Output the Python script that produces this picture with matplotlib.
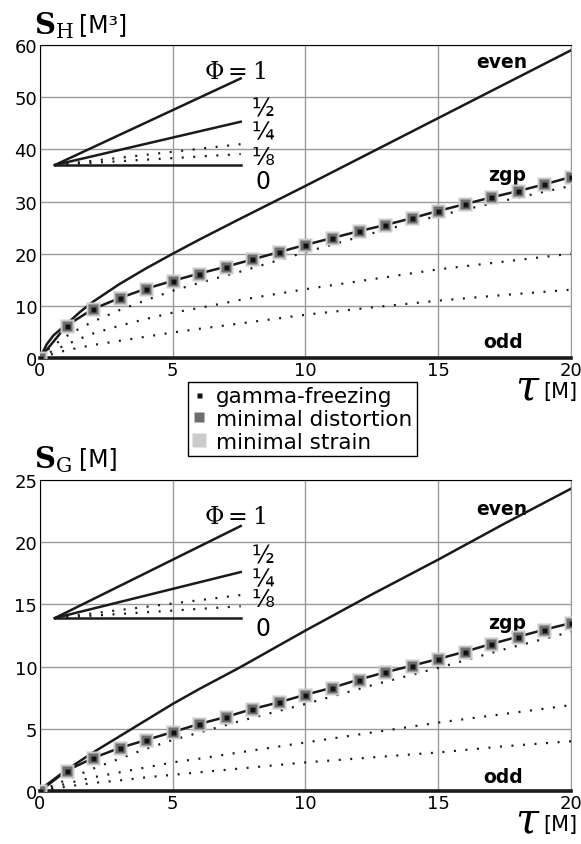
import matplotlib
matplotlib.use('Agg')
import matplotlib.pyplot as plt

# ---- data ----
tau_curve = [0, 0.25, 0.5, 1, 1.5, 2, 3, 4, 5, 6, 7.5, 10, 12.5, 15, 17.5, 20]
tau_pts = list(range(0, 21))

# upper panel S_H [M^3]
h_even = [0, 2.6, 4.3, 6.5, 8.8, 10.8, 14.2, 17.2, 20.0, 22.7, 26.6, 33.0,
          39.5, 46.0, 52.5, 59.0]
h_zgp = [0, 6.2, 9.4, 11.5, 13.3, 14.8, 16.2, 17.5, 18.9, 20.3, 21.7,
         23.0, 24.3, 25.5, 26.8, 28.2, 29.5, 30.8, 32.0, 33.3, 34.7]
h_dot1 = [0, 1.4, 2.4, 4.2, 5.7, 7.0, 9.2, 11.1, 12.9, 14.4, 16.5, 20.3,
          23.9, 27.3, 30.2, 33.0]
h_dot2 = [0, 0.8, 1.4, 2.6, 3.7, 4.7, 6.2, 7.5, 8.7, 9.6, 11.1, 13.2,
          15.1, 17.0, 18.5, 20.0]
h_dot3 = [0, 0.45, 0.8, 1.5, 2.0, 2.5, 3.3, 4.1, 4.9, 5.6, 6.6, 8.3,
          9.7, 11.0, 12.1, 13.1]
key_x = [0.56, 7.56]
h_key_start = 37.0
h_key_end = [53.6, 45.3, 41.0, 39.1, 37.0]   # phi = 1, 1/2, 1/4, 1/8, 0

# lower panel S_G [M]
g_even = [0, 0.5, 0.9, 1.7, 2.4, 3.1, 4.4, 5.7, 7.0, 8.2, 9.9, 12.9,
          15.8, 18.6, 21.5, 24.3]
g_zgp = [0, 1.63, 2.65, 3.46, 4.1, 4.74, 5.39, 5.95, 6.59, 7.13, 7.74,
         8.3, 8.95, 9.54, 10.07, 10.61, 11.2, 11.82, 12.4, 12.97, 13.5]
g_dot1 = [0, 0.25, 0.45, 0.9, 1.35, 1.8, 2.6, 3.4, 4.1, 4.7, 5.6, 7.0,
          8.5, 9.9, 11.4, 12.8]
g_dot2 = [0, 0.15, 0.3, 0.6, 0.85, 1.1, 1.5, 1.9, 2.3, 2.6, 3.1, 3.9,
          4.7, 5.5, 6.2, 6.9]
g_dot3 = [0, 0.1, 0.18, 0.35, 0.5, 0.65, 0.85, 1.1, 1.3, 1.5, 1.8, 2.3,
          2.7, 3.1, 3.6, 4.0]
g_key_start = 13.9
g_key_end = [21.3, 17.6, 15.75, 14.85, 13.9]

phi_labels = ['\u00bd', '\u00bc', '\u215b', '0']
key_styles = ['-', '-', ':', ':', '-']

plt.rcParams['font.family'] = ['DejaVu Sans']

fig = plt.figure(figsize=(5.81, 8.45), dpi=100)
ax1 = fig.add_axes([0.0688, 0.5751, 0.914, 0.3704])
ax2 = fig.add_axes([0.0688, 0.0627, 0.914, 0.3681])

dot = (0, (0.9, 4.3))
ink = '#1a1a1a'


def panel(ax, even, zgp, d1, d2, d3, key_start, key_end, ymax, ystep,
          phi_y, lab_y, txt_y):
    ax.plot(tau_curve, even, color=ink, lw=1.8, zorder=4)
    for d in (d1, d2, d3):
        ax.plot(tau_curve, d, color=ink, lw=1.6, linestyle=dot, zorder=3)
    ax.plot(tau_pts, zgp, color=ink, lw=1.8, zorder=4)
    ax.plot(tau_pts, zgp, 's', ms=10, color='#cbcbcb', mec='none', zorder=5,
            label='minimal strain')
    ax.plot(tau_pts, zgp, 's', ms=6.8, color='#6e6e6e', mec='none', zorder=6,
            label='minimal distortion')
    ax.plot(tau_pts, zgp, 's', ms=3.6, color='#111111', mec='none', zorder=7,
            label='gamma-freezing')
    # odd: zero line
    ax.plot([0, 20], [0, 0], color=ink, lw=2.6, zorder=4, clip_on=False)

    # Phi key
    for e, ls in zip(key_end, key_styles):
        if ls == ':':
            ax.plot(key_x, [key_start, e], color=ink, lw=1.6,
                    linestyle=dot, zorder=3)
        else:
            ax.plot(key_x, [key_start, e], color=ink, lw=1.8, zorder=3)
    ax.text(0.367, phi_y, r'$\Phi=1$', transform=ax.transAxes, ha='center',
            va='center', fontsize=17, math_fontfamily='dejavuserif')
    for s, yy in zip(phi_labels, lab_y):
        ax.text(0.42, yy, s, transform=ax.transAxes, ha='center', va='center',
                fontsize=17)

    for s, xx, yy in zip(['even', 'zgp', 'odd'], [0.87, 0.879, 0.872], txt_y):
        ax.text(xx, yy, s, transform=ax.transAxes, ha='center',
                va='center', fontsize=13.5, fontweight='bold')

    ax.set_xlim(0, 20)
    ax.set_ylim(0, ymax)
    ax.set_xticks([0, 5, 10, 15, 20])
    ax.set_yticks(list(range(0, ymax + 1, ystep)))
    ax.tick_params(length=0, labelsize=13, pad=2)
    ax.grid(True, color='#9a9a9a', lw=1)
    ax.set_axisbelow(True)
    ax.spines['top'].set_color('black')
    ax.spines['left'].set_color('black')
    ax.spines['right'].set_color('#9a9a9a')
    ax.spines['bottom'].set_visible(False)


panel(ax1, h_even, h_zgp, h_dot1, h_dot2, h_dot3, h_key_start, h_key_end,
      60, 10, 0.917, [0.796, 0.722, 0.642, 0.566], [0.949, 0.588, 0.054])
panel(ax2, g_even, g_zgp, g_dot1, g_dot2, g_dot3, g_key_start, g_key_end,
      25, 5, 0.885, [0.756, 0.682, 0.617, 0.524], [0.907, 0.543, 0.048])

# axis titles
for yb, sub, unit in ((0.959, 'H', '[M\u00b3]'), (0.446, 'G', '[M]')):
    fig.text(0.058, yb, r'$\mathbf{S}_{\mathrm{%s}}$' % sub, fontsize=21,
             math_fontfamily='dejavuserif', ha='left', va='baseline')
    fig.text(0.136, yb + 0.003, unit, fontsize=17, ha='left', va='baseline')

for yb in (0.526, 0.014):
    fig.text(0.930, yb, r'$\tau$', fontsize=30, math_fontfamily='dejavuserif',
             ha='right', va='baseline')
    fig.text(0.993, yb + 0.003, '[M]', fontsize=15, ha='right',
             va='baseline')

h, l = ax1.get_legend_handles_labels()
order = [2, 1, 0]
fig.legend([h[i] for i in order], [l[i] for i in order], loc='upper left',
           bbox_to_anchor=(0.3236, 0.5467), fontsize=15.5, frameon=True,
           fancybox=False, edgecolor='black', framealpha=1, handlelength=0.6,
           handletextpad=0.5, borderpad=0.2, labelspacing=0.12,
           borderaxespad=0)

fig.savefig('out.png', dpi=100)
